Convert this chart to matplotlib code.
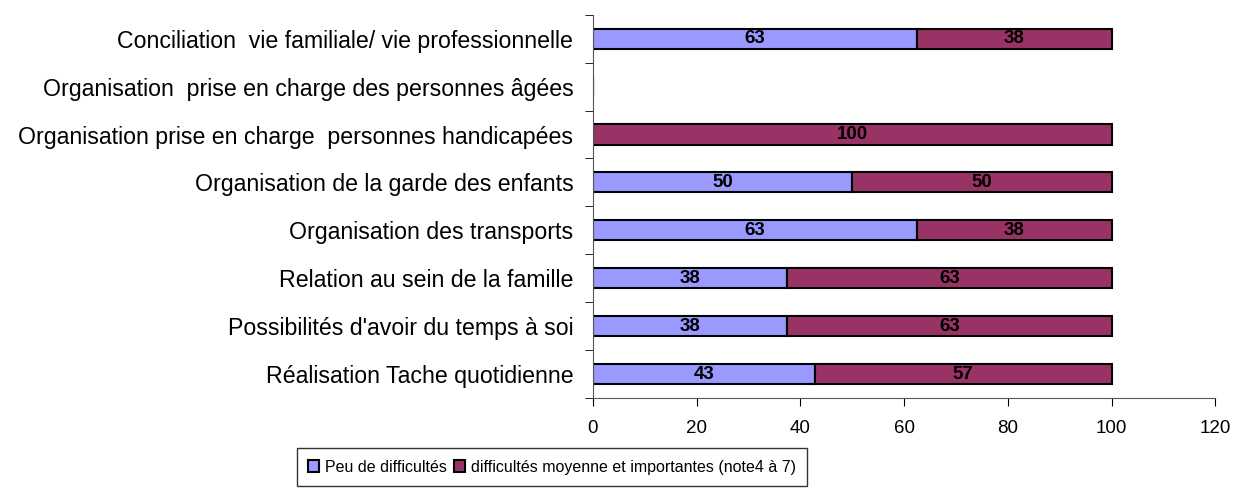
import matplotlib
matplotlib.use("Agg")
import matplotlib.pyplot as plt

# categories from bottom to top
categories = [
    "Réalisation Tache quotidienne",
    "Possibilités d'avoir du temps à soi",
    "Relation au sein de la famille",
    "Organisation des transports",
    "Organisation de la garde des enfants",
    "Organisation prise en charge  personnes handicapées",
    "Organisation  prise en charge des personnes âgées",
    "Conciliation  vie familiale/ vie professionnelle",
]
peu = [42.86, 37.5, 37.5, 62.5, 50, 0, 0, 62.5]
moyenne = [57.14, 62.5, 62.5, 37.5, 50, 100, 0, 37.5]
series_names = ["Peu de difficultés", "difficultés moyenne et importantes (note4 à 7)"]

plt.rcParams['font.family'] = ['Liberation Sans', 'DejaVu Sans']

fig = plt.figure(figsize=(12.35, 4.99), dpi=100)
ax = fig.add_axes([0.480, 0.2024, 0.504, 0.768])

y = list(range(len(categories)))
b1 = ax.barh(y, peu, height=0.42, color='#9999FF', edgecolor='black', linewidth=1.5,
             label=series_names[0])
b2 = ax.barh(y, moyenne, left=peu, height=0.42, color='#993366', edgecolor='black',
             linewidth=1.5, label=series_names[1])

for bars, vals, lefts in [(b1, peu, [0] * len(peu)), (b2, moyenne, peu)]:
    for i, v in enumerate(vals):
        if v > 0:
            ax.text(lefts[i] + v / 2, y[i], str(int(v + 0.5)), ha='center', va='center',
                    fontsize=13.5, fontweight='bold', color='black')

ax.set_xlim(0, 120)
ax.set_ylim(-0.5, len(categories) - 0.5)
ax.set_xticks(range(0, 121, 20))
ax.set_yticks(y)
ax.set_yticklabels(categories, fontsize=16.7)
ax.set_yticks([i - 0.5 for i in range(len(categories) + 1)], minor=True)
ax.tick_params(axis='y', which='major', length=0, pad=14)
ax.tick_params(axis='y', which='minor', length=6, direction='out')
ax.tick_params(axis='x', labelsize=13.5, length=6, direction='out', pad=10)

for s in ['top', 'right']:
    ax.spines[s].set_visible(False)
ax.spines['left'].set_color('#555555')
ax.spines['bottom'].set_color('#555555')

leg = fig.legend(handles=[b1, b2], loc='center', bbox_to_anchor=(0.447, 0.064), ncol=2,
                 fontsize=11.5, frameon=True, fancybox=False, edgecolor='black',
                 handlelength=0.7, handleheight=0.7, handletextpad=0.4, columnspacing=0.4,
                 borderpad=0.7)
leg.get_frame().set_linewidth(1.0)

fig.savefig("out.png", dpi=100)
